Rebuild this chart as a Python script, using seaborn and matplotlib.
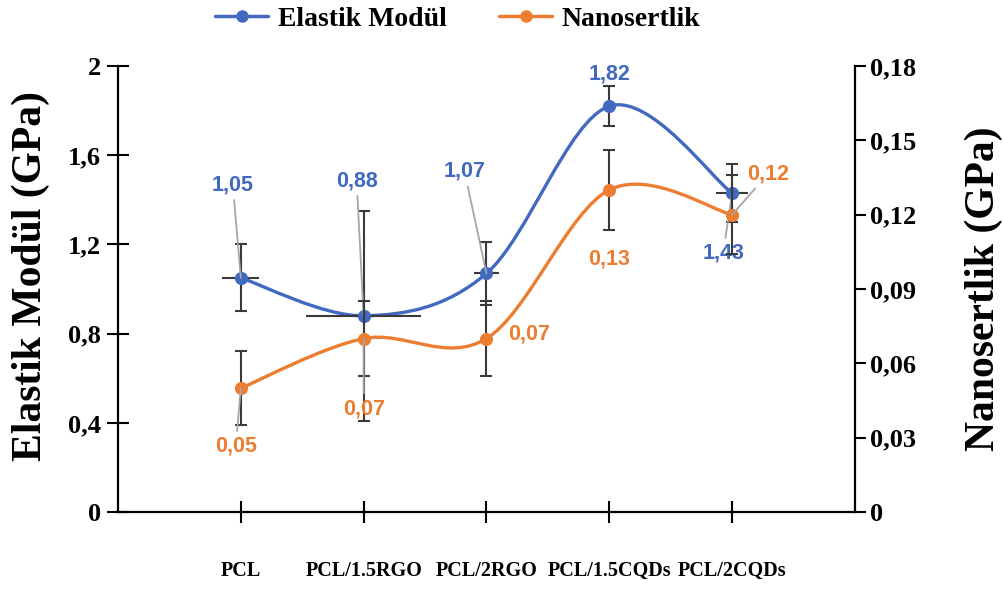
import numpy as np
import matplotlib
matplotlib.use("Agg")
import matplotlib.pyplot as plt
import seaborn as sns
from matplotlib.path import Path
from matplotlib.patches import PathPatch
from matplotlib.lines import Line2D

# ---------------- data ----------------
categories = ["PCL", "PCL/1.5RGO", "PCL/2RGO", "PCL/1.5CQDs", "PCL/2CQDs"]
elastic = [1.05, 0.88, 1.07, 1.82, 1.43]
elastic_yerr = [0.15, 0.47, 0.14, 0.09, 0.13]
elastic_xerr = [0.15, 0.47, 0.10, 0.0, 0.13]
nano = [0.05, 0.07, 0.07, 0.13, 0.12]
nano_yerr = [0.015, 0.015, 0.015, 0.016, 0.016]
left_ticks = [0, 0.4, 0.8, 1.2, 1.6, 2.0]
right_ticks = [0, 0.03, 0.06, 0.09, 0.12, 0.15, 0.18]
series_names = ["Elastik Modül", "Nanosertlik"]

BLUE = "#4169C0"
ORANGE = "#ED7D31"
ERR = "#3a3a3a"
LEAD = "#a6a6a6"

sns.set_theme(style="white")
plt.rcParams['font.family'] = ['Liberation Serif', 'DejaVu Serif']
plt.rcParams['font.weight'] = 'bold'
plt.rcParams['axes.labelweight'] = 'bold'
plt.rcParams['text.color'] = 'black'
plt.rcParams['axes.labelcolor'] = 'black'
plt.rcParams['xtick.color'] = 'black'
plt.rcParams['ytick.color'] = 'black'

fig = plt.figure(figsize=(10.04, 5.99), dpi=100)
ax = fig.add_axes([0.1175, 0.1452, 0.7341, 0.7446])
ax2 = ax.twinx()

x = np.arange(len(categories))


def smooth_path(xs, ys, t=1 / 6):
    pts = np.column_stack([xs, ys]).astype(float)
    n = len(pts)
    verts = [pts[0]]
    codes = [Path.MOVETO]
    for i in range(n - 1):
        p0 = pts[i - 1] if i > 0 else pts[i]
        p1 = pts[i]
        p2 = pts[i + 1]
        p3 = pts[i + 2] if i + 2 < n else pts[i + 1]
        c1 = p1 + (p2 - p0) * t
        c2 = p2 - (p3 - p1) * t
        verts += [c1, c2, p2]
        codes += [Path.CURVE4] * 3
    return Path(verts, codes)


# smooth lines
ax.add_patch(PathPatch(smooth_path(x, elastic), facecolor='none', edgecolor=BLUE, lw=2.4, zorder=3))
ax2.add_patch(PathPatch(smooth_path(x, nano), facecolor='none', edgecolor=ORANGE, lw=2.4, zorder=3))

# error bars
ax.errorbar(x, elastic, yerr=elastic_yerr, fmt='none', ecolor=ERR, elinewidth=1.5,
            capsize=4, capthick=1.5, zorder=4)
ax.errorbar(x, elastic, xerr=elastic_xerr, fmt='none', ecolor=ERR, elinewidth=1.5,
            capsize=0, zorder=4)
ax2.errorbar(x, nano, yerr=nano_yerr, fmt='none', ecolor=ERR, elinewidth=1.5,
             capsize=4, capthick=1.5, zorder=4)

# markers
sns.scatterplot(x=x, y=elastic, ax=ax, color=BLUE, s=90, linewidth=0, zorder=5, legend=False)
sns.scatterplot(x=x, y=nano, ax=ax2, color=ORANGE, s=90, linewidth=0, zorder=5, legend=False)

# data labels
lab_font = dict(family=['Liberation Sans', 'DejaVu Sans'], fontsize=15.5, fontweight='bold')
blue_off = [(-8, 93), (-7, 135), (-22, 102), (0, 32), (-9, -60)]
blue_lead = [True, True, True, False, True]
orange_off = [(-5, -58), (0, -70), (43, 5), (0, -69), (36, 41)]
orange_lead = [True, True, False, False, True]

for xi, v, off, lead in zip(x, elastic, blue_off, blue_lead):
    ax.annotate(f"{v:.2f}".replace('.', ','), xy=(xi, v), xytext=off, textcoords='offset pixels',
                ha='center', va='center', color=BLUE, zorder=6,
                arrowprops=dict(arrowstyle='-', color=LEAD, lw=1.3, shrinkA=1, shrinkB=0) if lead else None,
                **lab_font)
for xi, v, off, lead in zip(x, nano, orange_off, orange_lead):
    ax2.annotate(f"{v:.2f}".replace('.', ','), xy=(xi, v), xytext=off, textcoords='offset pixels',
                 ha='center', va='center', color=ORANGE, zorder=6,
                 arrowprops=dict(arrowstyle='-', color=LEAD, lw=1.3, shrinkA=1, shrinkB=0) if lead else None,
                 **lab_font)

# axes
ax.set_xlim(-1, 5)
ax.set_ylim(0, 2)
ax2.set_ylim(0, 0.18)

ax.set_xticks(x)
ax.set_xticklabels(categories, fontsize=14.5, fontweight='bold', color='black')
ax.set_yticks(left_ticks)
ax.set_yticklabels([f"{v:g}".replace('.', ',') for v in left_ticks], fontsize=19,
                   fontweight='bold', color='black')
ax2.set_yticks(right_ticks)
ax2.set_yticklabels(["0" if v == 0 else f"{v:.2f}".replace('.', ',') for v in right_ticks],
                    fontsize=19, fontweight='bold', color='black')

ax.tick_params(axis='y', direction='inout', length=16, width=1.5, color='black', pad=4, left=True)
ax.tick_params(axis='x', direction='inout', length=16, width=1.5, color='black', pad=27, bottom=True)
ax2.tick_params(axis='y', direction='out', length=8, width=1.5, color='black', pad=3, right=True)

for a in (ax, ax2):
    for s in a.spines.values():
        s.set_color('black')
        s.set_linewidth(1.6)
    a.spines['top'].set_visible(False)
    a.grid(False)
ax.spines['right'].set_visible(False)
ax2.spines['left'].set_visible(False)
ax2.spines['bottom'].set_visible(False)

ax.set_ylabel("Elastik Modül (GPa)", fontsize=30, fontweight='bold', color='black')
ax.yaxis.set_label_coords(-0.092, 0.53)
ax2.set_ylabel("Nanosertlik (GPa)", fontsize=30, fontweight='bold', color='black')
ax2.yaxis.set_label_coords(1.148, 0.5)

handles = [Line2D([], [], color=BLUE, lw=2.5, marker='o', ms=8),
           Line2D([], [], color=ORANGE, lw=2.5, marker='o', ms=8)]
fig.legend(handles, series_names, loc='center', bbox_to_anchor=(0.456, 0.968), ncol=2,
           frameon=False, prop=dict(family=['Liberation Serif'], size=20, weight='bold'),
           labelcolor='black', handlelength=1.9, handletextpad=0.35, columnspacing=1.9)

fig.savefig("out.png", dpi=100)
